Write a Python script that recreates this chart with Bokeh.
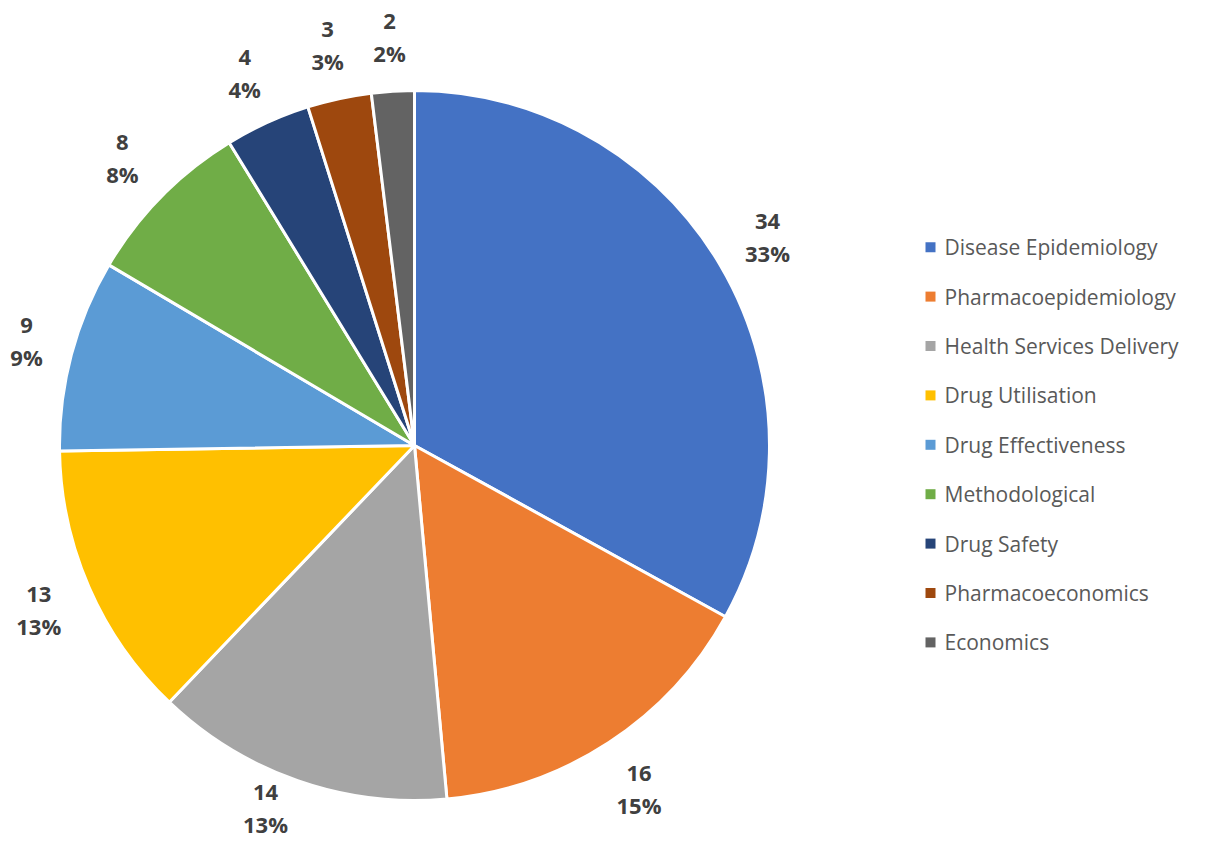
import numpy as np
from bokeh.plotting import figure
from bokeh.models import Range1d, ColumnDataSource
from bokeh.core.properties import value
from bokeh.embed import file_html
from bokeh.resources import INLINE

# ---- data ----
categories = ["Disease Epidemiology", "Pharmacoepidemiology", "Health Services Delivery",
              "Drug Utilisation", "Drug Effectiveness", "Methodological", "Drug Safety",
              "Pharmacoeconomics", "Economics"]
counts = [34, 16, 14, 13, 9, 8, 4, 3, 2]
pct_labels = ["33%", "15%", "13%", "13%", "9%", "8%", "4%", "3%", "2%"]
colors = ["#4472C4", "#ED7D31", "#A5A5A5", "#FFC000", "#5B9BD5",
          "#70AD47", "#264478", "#9E480E", "#636363"]

# ---- layout (picture pixel coordinates; data y = 857 - picture y) ----
W, H = 1191, 841
def sy(y):
    return 857 - y

cx, cy = 414, sy(445)
R = 355
label_r = 410

vals = np.array(counts, dtype=float)
total = vals.sum()
cum = np.cumsum(vals)
prev = cum - vals
start = np.pi / 2 - 2 * np.pi * prev / total
end = np.pi / 2 - 2 * np.pi * cum / total
mid = (start + end) / 2

p = figure(width=W, height=H, output_backend="svg", toolbar_location=None,
           x_range=Range1d(0, W), y_range=Range1d(sy(H), sy(0)),
           min_border=0, tools="")
p.axis.visible = False
p.grid.visible = False
p.outline_line_color = None
p.background_fill_color = "white"
p.border_fill_color = "white"

src = ColumnDataSource(dict(start=start, end=end, color=colors, cat=categories))
p.wedge(x=cx, y=cy, radius=R, start_angle="start", end_angle="end",
        direction="clock", fill_color="color", line_color="white", line_width=3,
        source=src)

# data labels
lab_txt = [f"{c}\n{pc}" for c, pc in zip(counts, pct_labels)]
lx = cx + label_r * np.cos(mid)
ly = cy + label_r * np.sin(mid)
low = ly < sy(H) + 34
lx = np.where(low, lx - 14, lx)   # slide the lowest label along the rim
ly = np.maximum(ly, sy(H) + 34)   # keep it inside the canvas
lx = np.maximum(lx, 26)
lsrc = ColumnDataSource(dict(x=lx, y=ly, t=lab_txt))
p.text(x="x", y="y", text="t", source=lsrc, text_align="center",
       text_baseline="middle", text_font=value("Open Sans"), text_font_style="bold",
       text_font_size="22px", text_color="#404040", text_line_height=1.1)

# legend
n = len(categories)
leg_y = np.array([sy(246.7 + i * 49.4) for i in range(n)])
gsrc = ColumnDataSource(dict(x=[930] * n, y=leg_y, color=colors,
                             tx=[944] * n, t=categories))
p.scatter(x="x", y="y", marker="square", size=10, fill_color="color",
          line_color=None, source=gsrc)
p.text(x="tx", y="y", text="t", source=gsrc, text_align="left",
       text_baseline="middle", text_font=value("Open Sans"),
       text_font_size="21px", text_color="#595959")

open("out.html", "w").write(file_html(p, INLINE))
